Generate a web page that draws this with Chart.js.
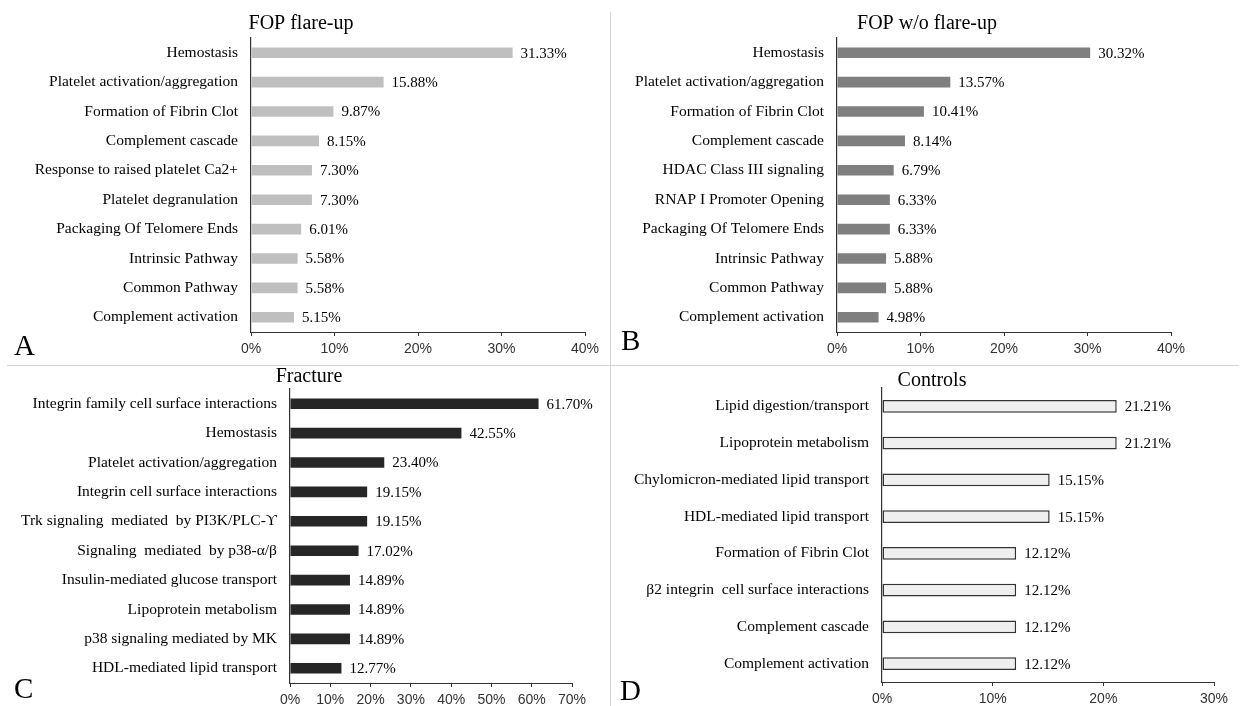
<!DOCTYPE html>
<html>
<head>
<meta charset="utf-8">
<script src="https://cdn.jsdelivr.net/npm/chart.js@4"></script>
<style>
  html, body { margin: 0; padding: 0; background: #fff; }
  #wrap { position: relative; width: 1242px; height: 706px; overflow: hidden; }
  #wrap canvas { position: absolute; left: 0; top: 0; }
  .rule { position: absolute; background: #d4d4d4; }
</style>
</head>
<body>
<div id="wrap">
  <div class="rule" style="left:7px; top:365px; width:1232px; height:1px;"></div>
  <div class="rule" style="left:610px; top:12px; width:1px; height:694px;"></div>
  <canvas id="chartA" width="1242" height="706"></canvas>
  <canvas id="chartB" width="1242" height="706"></canvas>
  <canvas id="chartC" width="1242" height="706"></canvas>
  <canvas id="chartD" width="1242" height="706"></canvas>
</div>
<script>
// panel A: FOP flare-up
const flareLabels = ["Hemostasis", "Platelet activation/aggregation", "Formation of Fibrin Clot",
  "Complement cascade", "Response to raised platelet Ca2+", "Platelet degranulation",
  "Packaging Of Telomere Ends", "Intrinsic Pathway", "Common Pathway", "Complement activation"];
const flareValues = [31.33, 15.88, 9.87, 8.15, 7.30, 7.30, 6.01, 5.58, 5.58, 5.15];

// panel B: FOP w/o flare-up
const noFlareLabels = ["Hemostasis", "Platelet activation/aggregation", "Formation of Fibrin Clot",
  "Complement cascade", "HDAC Class III signaling", "RNAP I Promoter Opening",
  "Packaging Of Telomere Ends", "Intrinsic Pathway", "Common Pathway", "Complement activation"];
const noFlareValues = [30.32, 13.57, 10.41, 8.14, 6.79, 6.33, 6.33, 5.88, 5.88, 4.98];

// panel C: Fracture
const fractureLabels = ["Integrin family cell surface interactions", "Hemostasis",
  "Platelet activation/aggregation", "Integrin cell surface interactions",
  "Trk signaling  mediated  by PI3K/PLC-\u03d2", "Signaling  mediated  by p38-\u03b1/\u03b2",
  "Insulin-mediated glucose transport", "Lipoprotein metabolism",
  "p38 signaling mediated by MK", "HDL-mediated lipid transport"];
const fractureValues = [61.70, 42.55, 23.40, 19.15, 19.15, 17.02, 14.89, 14.89, 14.89, 12.77];

// panel D: Controls
const controlLabels = ["Lipid digestion/transport", "Lipoprotein metabolism",
  "Chylomicron-mediated lipid transport", "HDL-mediated lipid transport",
  "Formation of Fibrin Clot", "\u03b22 integrin  cell surface interactions",
  "Complement cascade", "Complement activation"];
const controlValues = [21.21, 21.21, 15.15, 15.15, 12.12, 12.12, 12.12, 12.12];

const SERIF = "'Liberation Serif', 'Times New Roman', serif";
const SANS = "'Liberation Sans', Arial, sans-serif";

// titles, panel letters and value labels
const panelText = {
  id: "panelText",
  afterDatasetsDraw(chart, args, opts) {
    const ctx = chart.ctx;
    ctx.save();
    ctx.fillStyle = "#000";
    ctx.font = "15px " + SERIF;
    ctx.textAlign = "left";
    ctx.textBaseline = "middle";
    const meta = chart.getDatasetMeta(0);
    const vals = chart.data.datasets[0].data;
    meta.data.forEach((bar, i) => {
      ctx.fillText(vals[i].toFixed(2) + "%", bar.x + 8, bar.y + 1);
    });
    ctx.font = "20px " + SERIF;
    ctx.textAlign = "center";
    ctx.fillText(opts.title, opts.titleX, opts.titleY);
    ctx.font = "29px " + SERIF;
    ctx.textAlign = "left";
    ctx.textBaseline = "alphabetic";
    ctx.fillText(opts.letter, opts.letterX, opts.letterY);
    ctx.restore();
  }
};

function makePanel(id, labels, values, cfg) {
  new Chart(document.getElementById(id), {
    type: "bar",
    data: {
      labels: labels,
      datasets: [{
        data: values,
        backgroundColor: cfg.fill,
        borderColor: cfg.stroke || cfg.fill,
        borderWidth: cfg.stroke ? 1.5 : 0,
        borderSkipped: false,
        categoryPercentage: 1,
        barPercentage: cfg.barPct
      }]
    },
    options: {
      indexAxis: "y",
      responsive: false,
      animation: false,
      events: [],
      layout: {
        padding: { left: cfg.padLeft, right: 1242 - cfg.right, top: cfg.top, bottom: 706 - cfg.bottom - 24 }
      },
      plugins: {
        legend: { display: false },
        tooltip: { enabled: false },
        panelText: cfg.text
      },
      scales: {
        x: {
          min: 0,
          max: cfg.max,
          afterFit: s => { s.height = 24; },
          border: { display: true, color: "#333", width: 1 },
          grid: { display: true, drawOnChartArea: false, drawTicks: true, tickLength: 4, color: "#333" },
          ticks: {
            stepSize: 10,
            padding: 5,
            color: "#333",
            font: { family: SANS, size: 14 },
            callback: v => v + "%"
          }
        },
        y: {
          afterFit: s => { s.width = cfg.left - cfg.padLeft; },
          border: { display: true, color: "#333", width: 1.2 },
          grid: { display: false, drawTicks: false },
          ticks: {
            autoSkip: false,
            padding: 13,
            color: "#000",
            font: { family: SERIF, size: 15.5 }
          }
        }
      }
    },
    plugins: [panelText]
  });
}

makePanel("chartA", flareLabels, flareValues, {
  fill: "#bfbfbf", barPct: 0.36, max: 40,
  padLeft: 0, left: 251, right: 585, top: 38, bottom: 332,
  text: { title: "FOP flare-up", titleX: 301, titleY: 24, letter: "A", letterX: 14, letterY: 355 }
});

makePanel("chartB", noFlareLabels, noFlareValues, {
  fill: "#7f7f7f", barPct: 0.36, max: 40,
  padLeft: 620, left: 837, right: 1171, top: 38, bottom: 332,
  text: { title: "FOP w/o flare-up", titleX: 927, titleY: 24, letter: "B", letterX: 621, letterY: 350 }
});

makePanel("chartC", fractureLabels, fractureValues, {
  fill: "#262626", barPct: 0.36, max: 70,
  padLeft: 0, left: 290, right: 572, top: 389, bottom: 683,
  text: { title: "Fracture", titleX: 309, titleY: 377, letter: "C", letterX: 14, letterY: 698 }
});

makePanel("chartD", controlLabels, controlValues, {
  fill: "#efefef", stroke: "#333", barPct: 0.35, max: 30,
  padLeft: 620, left: 882, right: 1214, top: 388, bottom: 682,
  text: { title: "Controls", titleX: 932, titleY: 381, letter: "D", letterX: 620, letterY: 700 }
});
</script>
</body>
</html>
